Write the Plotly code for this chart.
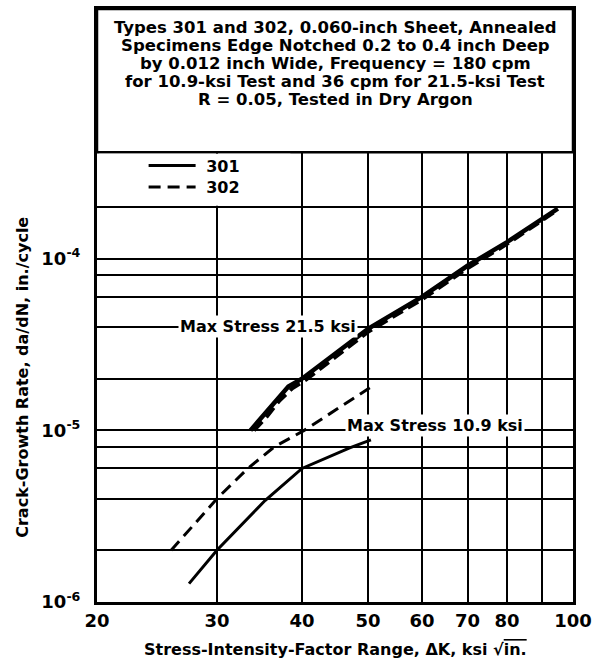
import numpy as np
import plotly.graph_objects as go

# stress-intensity range dK (ksi sqrt(in.)) and da/dN (in./cycle)
dk_301_hi = [33.6, 35.0, 36.6, 38.2, 40.0, 50.0, 60.0, 70.0, 80.0, 90.0, 95.0]
rate_301_hi = [1.0e-5, 1.21e-5, 1.5e-5, 1.8e-5, 2.0e-5, 3.9e-5, 6.0e-5, 9.1e-5, 1.25e-4, 1.7e-4, 1.96e-4]
dk_302_hi = [34.0, 35.5, 37.0, 38.7, 40.5, 50.0, 60.0, 70.0, 80.0, 90.0, 95.0]
rate_302_hi = [1.0e-5, 1.2e-5, 1.48e-5, 1.76e-5, 1.97e-5, 3.75e-5, 5.8e-5, 8.8e-5, 1.22e-4, 1.66e-4, 1.93e-4]
dk_301_lo = [27.3, 30.0, 35.3, 40.0, 47.0, 50.5]
rate_301_lo = [1.28e-6, 2.0e-6, 3.9e-6, 6.0e-6, 7.9e-6, 8.8e-6]
dk_302_lo = [25.7, 30.0, 33.3, 36.4, 40.3, 45.0, 50.3]
rate_302_lo = [2.0e-6, 4.0e-6, 6.0e-6, 8.0e-6, 1.0e-5, 1.33e-5, 1.77e-5]

xtick_vals = [20, 30, 40, 50, 60, 70, 80, 90, 100]
xtick_text = ["20", "30", "40", "50", "60", "70", "80", "", "100"]
ytick_vals = [1e-6, 2e-6, 4e-6, 6e-6, 8e-6, 1e-5, 2e-5, 4e-5, 6e-5, 8e-5, 1e-4, 2e-4]
ytick_text = ["10<sup>-6</sup>", "", "", "", "", "10<sup>-5</sup>", "", "", "", "", "10<sup>-4</sup>", ""]

title_lines = [
    "Types 301 and 302, 0.060-inch Sheet, Annealed",
    "Specimens Edge Notched 0.2 to 0.4 inch Deep",
    "by 0.012 inch Wide, Frequency = 180 cpm",
    "for 10.9-ksi Test and 36 cpm for 21.5-ksi Test",
    "R = 0.05, Tested in Dry Argon",
]

W, H = 598, 666
L, R, T, B = 97, 21, 6, 64
pw, ph = W - L - R, H - T - B


def px(pix):
    # pixel column -> paper x
    return (pix - L) / pw


def py(pix):
    # pixel row -> paper y
    return (H - B - pix) / ph


FONT = "DejaVu Sans"

fig = go.Figure()
fig.add_trace(go.Scatter(x=dk_302_hi, y=rate_302_hi, mode="lines", showlegend=False,
                         line=dict(color="black", width=4, dash="12px,6px")))
fig.add_trace(go.Scatter(x=dk_301_hi, y=rate_301_hi, mode="lines", showlegend=False,
                         line=dict(color="black", width=4.5)))
fig.add_trace(go.Scatter(x=dk_301_lo, y=rate_301_lo, mode="lines", name=" 301", legend="legend",
                         line=dict(color="black", width=3)))
fig.add_trace(go.Scatter(x=dk_302_lo, y=rate_302_lo, mode="lines", name=" 302", legend="legend2",
                         line=dict(color="black", width=3, dash="12px,7px")))

# box with the test description, and blank area behind the legend
fig.add_shape(type="rect", xref="paper", yref="paper", x0=0, x1=1, y0=py(150), y1=1,
              fillcolor="white", line=dict(color="black", width=2.5), layer="above")
fig.add_shape(type="rect", xref="paper", yref="paper", x0=px(99), x1=px(292),
              y0=py(203.8), y1=py(151.5), fillcolor="white", line=dict(width=0), layer="above")

for i, s in enumerate(title_lines):
    fig.add_annotation(text=s, xref="paper", yref="paper", x=0.5, y=py(25 + i * 18),
                       showarrow=False, xanchor="center", yanchor="middle",
                       borderpad=0, font=dict(size=16.5))

fig.add_annotation(text="Max Stress 21.5 ksi", x=np.log10(35.7), y=np.log10(4.05e-5),
                   showarrow=False, bgcolor="white", borderpad=1, font=dict(size=16))
fig.add_annotation(text="Max Stress 10.9 ksi", x=np.log10(62.8), y=np.log10(1.07e-5),
                   showarrow=False, bgcolor="white", borderpad=1, font=dict(size=16))

fig.add_annotation(text="Crack-Growth Rate, da/dN, in./cycle", textangle=-90,
                   xref="paper", yref="paper", x=px(22), y=py(376),
                   xanchor="center", yanchor="middle", showarrow=False, font=dict(size=16))
fig.add_annotation(text="Stress-Intensity-Factor Range, ΔK, ksi √<span style='text-decoration:overline'>in.</span>",
                   xref="paper", yref="paper", x=0.5, y=py(650),
                   xanchor="center", yanchor="middle", showarrow=False, font=dict(size=16))

axis_style = dict(type="log", showgrid=True, gridcolor="black", gridwidth=2,
                  showline=True, linecolor="black", linewidth=3, mirror=True,
                  ticks="", zeroline=False)

fig.update_xaxes(range=[np.log10(20), np.log10(100)], tickvals=xtick_vals, ticktext=xtick_text,
                 tickfont=dict(size=18), ticklabelstandoff=0, **axis_style)
fig.update_yaxes(range=[-6, -6 + ph / 172.5], tickvals=ytick_vals, ticktext=ytick_text,
                 tickfont=dict(size=18), ticklabelstandoff=10, **axis_style)

leg = dict(xanchor="left", yanchor="middle", bgcolor="rgba(0,0,0,0)",
           font=dict(size=16), itemwidth=47)
fig.update_layout(
    width=W, height=H,
    margin=dict(l=L, r=R, t=T, b=B),
    paper_bgcolor="white", plot_bgcolor="white",
    font=dict(family=FONT, color="black", weight="bold"),
    legend=dict(x=px(144), y=py(163.5), **leg),
    legend2=dict(x=px(144), y=py(185), **leg),
)

# the page body has a default 8px margin; drop it so the figure sits at the window corner
fig.write_html("out.html", config={"displayModeBar": False},
               post_script="document.body.style.margin = '0';")
